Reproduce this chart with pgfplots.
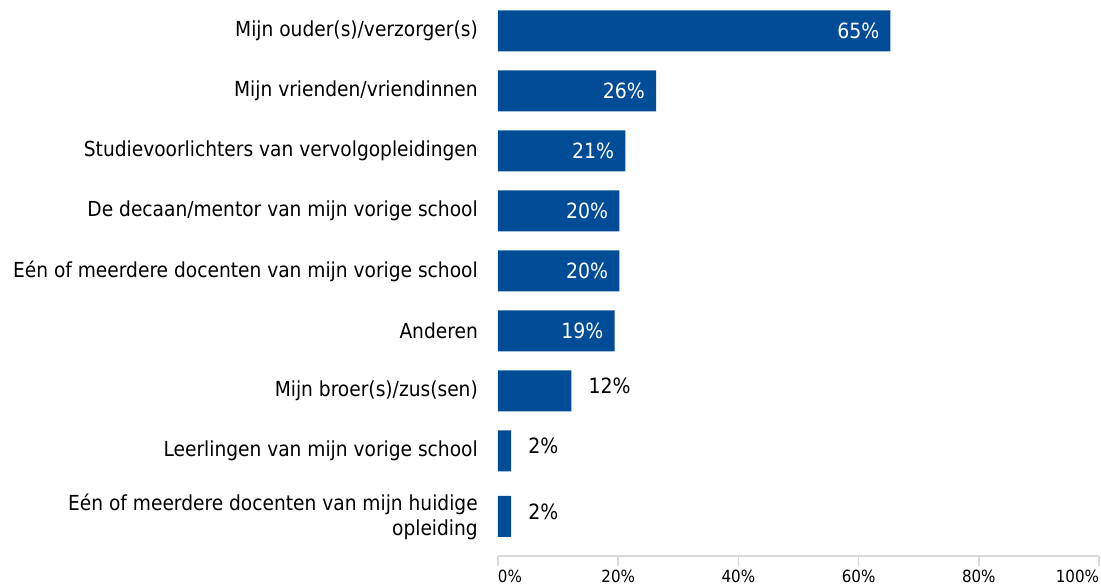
\documentclass[border=0pt]{standalone}
\usepackage{fontspec}
\setmainfont{DejaVu Sans Condensed}
\usepackage{pgfplots}
\usepackage{pgfplotstable}
\pgfplotsset{compat=1.18}
\definecolor{barblue}{RGB}{0,76,151}
\definecolor{axgray}{RGB}{217,217,217}

\pgfplotstableread{
y x lab
0 65.3 65
1 26.3 26
2 21.2 21
3 20.2 20
4 20.2 20
5 19.4 19
}\inside
\pgfplotstableread{
y x lab
6 12.2 12
7 2.2 2
8.09 2.2 2
}\outside

\begin{document}
\begin{tikzpicture}
\begin{axis}[name=ax, scale only axis, width=601pt, height=546pt,
  xbar, bar width=41pt, bar shift=0pt,
  xmin=0, xmax=100, ymin=-0.35, ymax=8.75, y dir=reverse,
  enlargelimits=false,
  axis x line*=bottom, axis y line*=left,
  y axis line style={draw=none},
  x axis line style={draw=axgray, line width=1.5pt, -},
  tick align=outside, major tick length=10pt,
  xtick style={draw=axgray, line width=1.5pt},
  ytick style={draw=none},
  xtick={0,20,...,100},
  xticklabels={\makebox[0pt][l]{0\%},20\%,40\%,60\%,80\%,\makebox[0pt][r]{100\%}},
  xticklabel style={font=\fontsize{16.8}{20}\selectfont, inner sep=0pt, yshift=-4pt},
  ytick={0,1,2,3,4,5,6,7,8.09},
  yticklabels={Mijn ouder(s)/verzorger(s),
    Mijn vrienden/vriendinnen,
    Studievoorlichters van vervolgopleidingen,
    De decaan/mentor van mijn vorige school,
    Eén of meerdere docenten van mijn vorige school,
    Anderen,
    Mijn broer(s)/zus(sen),
    Leerlingen van mijn vorige school,
    {Eén of meerdere docenten van mijn huidige\\opleiding}},
  yticklabel style={font=\fontsize{20.7}{25}\selectfont, align=right, inner sep=0pt, xshift=-10pt},
  point meta=explicit symbolic,
]
\addplot[fill=barblue, draw=none,
  nodes near coords={\pgfplotspointmeta\%},
  nodes near coords style={anchor=east, text=white, font=\fontsize{21}{25}\selectfont, inner sep=0pt, xshift=-11pt}]
  table[x=x, y=y, meta=lab] {\inside};
\addplot[fill=barblue, draw=none,
  nodes near coords={\pgfplotspointmeta\%},
  nodes near coords style={anchor=west, text=black, font=\fontsize{21}{25}\selectfont, inner sep=0pt, xshift=17pt, yshift=5pt}]
  table[x=x, y=y, meta=lab] {\outside};
\end{axis}
\pgfresetboundingbox
\path ([xshift=-498pt,yshift=-30pt]ax.south west) rectangle ([xshift=603pt,yshift=10pt]ax.north west);
\end{tikzpicture}
\end{document}
